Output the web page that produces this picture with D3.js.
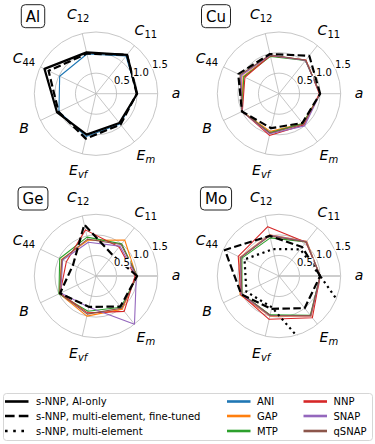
<!DOCTYPE html>
<html><head><meta charset="utf-8">
<script src="https://cdn.jsdelivr.net/npm/d3@7/dist/d3.min.js"></script>
<style>body{margin:0;background:#fff}svg{display:block}text{font-family:"DejaVu Sans",sans-serif}</style>
</head><body><svg id="c" width="375" height="444"></svg>
<script>
// ---- data ----
const axisKeys = ["a","C11","C12","C44","B","Evf","Em"];
const radialTicks = [0.5, 1.0, 1.5];
const radialTickLabels = ["0.5","1.0","1.5"];
const elements = ["Al","Cu","Ge","Mo"];
const methods = ["ANI","GAP","MTP","NNP","SNAP","qSNAP"];
const methodColors = ["#1f77b4","#ff7f0e","#2ca02c","#d62728","#9467bd","#8c564b"];
const sNNPNames = ["s-NNP, Al-only","s-NNP, multi-element, fine-tuned","s-NNP, multi-element"];

// values normalised to reference (order: a, C11, C12, C44, B, Evf, Em)
const Al_sNNP_AlOnly   = [1.00, 1.21, 1.03, 1.39, 1.05, 1.02, 0.91];
const Al_sNNP_fineTuned= [0.99, 1.21, 1.00, 1.28, 1.01, 1.12, 0.96];
const Al_ANI           = [1.00, 1.17, 0.99, 0.98, 1.00, 1.07, 0.94];

const Cu_sNNP_fineTuned= [1.00, 1.18, 0.99, 1.10, 1.00, 0.86, 0.91];
const Cu_GAP           = [1.00, 1.04, 0.95, 0.97, 1.00, 0.94, 0.93];
const Cu_MTP           = [1.00, 1.03, 0.93, 0.95, 1.00, 0.97, 0.93];
const Cu_NNP           = [0.98, 1.05, 0.95, 0.92, 0.99, 1.04, 0.97];
const Cu_SNAP          = [1.00, 1.03, 0.96, 1.02, 1.00, 1.00, 1.00];
const Cu_qSNAP         = [1.00, 1.04, 0.97, 1.05, 1.00, 0.98, 0.95];

const Ge_sNNP_fineTuned= [1.00, 0.65, 1.28, 0.62, 0.97, 0.77, 0.95];
const Ge_GAP           = [0.98, 1.12, 0.89, 0.93, 0.99, 1.00, 1.03];
const Ge_MTP           = [1.00, 1.00, 0.97, 0.98, 1.00, 0.88, 0.97];
const Ge_NNP           = [0.95, 0.90, 1.15, 0.80, 0.97, 0.92, 1.10];
const Ge_SNAP          = [0.98, 0.93, 0.84, 0.90, 0.95, 0.78, 1.50];
const Ge_qSNAP         = [1.00, 0.98, 0.92, 0.92, 0.98, 0.95, 1.00];

const Mo_sNNP_fineTuned= [1.00, 0.90, 1.00, 1.46, 1.02, 0.82, 1.00];
const Mo_sNNP_multi    = [1.00, 0.83, 0.67, 0.93, 0.88, 0.78, 15.0];
const Mo_GAP           = [1.00, 1.08, 1.03, 1.05, 1.05, 1.00, 1.25];
const Mo_MTP           = [1.00, 1.06, 0.95, 1.00, 1.00, 0.97, 1.22];
const Mo_NNP           = [1.00, 1.05, 1.23, 1.10, 1.03, 1.08, 1.30];
const Mo_SNAP          = [1.00, 1.07, 1.02, 1.04, 1.02, 0.99, 1.24];
const Mo_qSNAP         = [1.00, 1.06, 1.00, 1.03, 1.00, 0.98, 1.23];

// ---- assemble ----
const panels = {
  Al: {colored: [["ANI", Al_ANI]], black: [[0, Al_sNNP_AlOnly],[1, Al_sNNP_fineTuned]]},
  Cu: {colored: [["GAP",Cu_GAP],["MTP",Cu_MTP],["NNP",Cu_NNP],["SNAP",Cu_SNAP],["qSNAP",Cu_qSNAP]], black: [[1, Cu_sNNP_fineTuned]]},
  Ge: {colored: [["GAP",Ge_GAP],["MTP",Ge_MTP],["NNP",Ge_NNP],["SNAP",Ge_SNAP],["qSNAP",Ge_qSNAP]], black: [[1, Ge_sNNP_fineTuned]]},
  Mo: {colored: [["GAP",Mo_GAP],["MTP",Mo_MTP],["NNP",Mo_NNP],["SNAP",Mo_SNAP],["qSNAP",Mo_qSNAP]], black: [[2, Mo_sNNP_multi],[1, Mo_sNNP_fineTuned]]}
};
const centers = {Al:[96,93.7], Cu:[279,93.7], Ge:[96,276], Mo:[279,276]};
const thickA = {Al:false, Cu:false, Ge:true, Mo:true};
const R = 61.7;
const color = d3.scaleOrdinal().domain(methods).range(methodColors);
const rScale = d3.scaleLinear().domain([0, 1.5]).range([0, R]);
// d3 angle: 0 at 12 o'clock clockwise; data axes go counter-clockwise from east
const aScale = d3.scaleLinear().domain([0, axisKeys.length]).range([Math.PI/2, Math.PI/2 - 2*Math.PI]);
const blackStyles = [
  {w:2.2, dash:null},
  {w:2.2, dash:"7.5,3.4"},
  {w:2.2, dash:"2.2,3.6"}
];
const labelDefs = {
  a:[["a",true,false]], C11:[["C",true,false],["11",false,true]], C12:[["C",true,false],["12",false,true]],
  C44:[["C",true,false],["44",false,true]], B:[["B",true,false]], Evf:[["E",true,false],["vf",true,true]],
  Em:[["E",true,false],["m",true,true]]
};
const labelDy = {a:3.9, B:5.1, C11:3.6, C12:3.6, C44:3.6, Evf:3.6, Em:3.6};

const svg = d3.select("#c");
const line = d3.lineRadial().angle((d,i)=>aScale(i)).radius(d=>rScale(d)).curve(d3.curveLinearClosed);

elements.forEach((el, k) => {
  const [cx, cy] = centers[el];
  const g = svg.append("g").attr("transform", `translate(${cx},${cy})`);
  const clipId = "clip" + el;
  svg.append("clipPath").attr("id", clipId).append("circle").attr("cx",0).attr("cy",0).attr("r", R+0.6);
  // grid
  g.selectAll(".ring").data(radialTicks).join("circle")
    .attr("r", d=>rScale(d)).attr("fill","none").attr("stroke","#b8b8b8").attr("stroke-width",0.8);
  g.selectAll(".spoke").data(axisKeys).join("line")
    .attr("x1",0).attr("y1",0)
    .attr("x2",(d,i)=>R*Math.sin(aScale(i))).attr("y2",(d,i)=>-R*Math.cos(aScale(i)))
    .attr("stroke",(d,i)=> (i===0 && thickA[el]) ? "#cdcdcd" : "#b8b8b8")
    .attr("stroke-width",(d,i)=> (i===0 && thickA[el]) ? 2 : 0.8);
  const dg = g.append("g").attr("clip-path", `url(#${clipId})`);
  panels[el].colored.forEach(([m, vals]) => {
    dg.append("path").attr("d", line(vals)).attr("fill","none")
      .attr("stroke", color(m)).attr("stroke-width",1.1).attr("stroke-linejoin","round");
  });
  panels[el].black.forEach(([s, vals]) => {
    const st = blackStyles[s];
    const p = dg.append("path").attr("d", line(vals)).attr("fill","none")
      .attr("stroke","#000").attr("stroke-width",st.w).attr("stroke-linejoin","round");
    if (st.dash) p.attr("stroke-dasharray", st.dash);
  });
  // radial tick labels with white background
  const ang = Math.PI/2 - 22.5*Math.PI/180;
  radialTicks.forEach((t, i) => {
    const x = rScale(t)*Math.sin(ang) - 1, y = -rScale(t)*Math.cos(ang) - 2;
    const tg = g.append("g");
    const bg = tg.append("rect").attr("fill","#fff");
    const tx = tg.append("text").attr("x",x).attr("y",y).attr("font-size",10).attr("fill","#000").text(radialTickLabels[i]);
    const bb = tx.node().getBBox();
    bg.attr("x",bb.x-0.5).attr("y",bb.y+1).attr("width",bb.width+1).attr("height",bb.height-2);
  });
  // axis labels
  axisKeys.forEach((key, i) => {
    const a = aScale(i), rr = 80;
    const x = rr*Math.sin(a), y = -rr*Math.cos(a) + labelDy[key];
    const t = g.append("text").attr("x",x).attr("y",y).attr("text-anchor","middle").attr("font-size",14);
    labelDefs[key].forEach(([s, it, sub]) => {
      const ts = t.append("tspan").text(s).attr("font-style", it ? "italic" : "normal");
      if (sub) ts.attr("font-size",10).attr("dy",3);
    });
  });
  // element box
  const eg = g.append("g").attr("transform","translate(-63,-77.5)");
  const et = eg.append("text").attr("text-anchor","middle").attr("dy",5.4).attr("font-size",15).text(el);
  const eb = et.node().getBBox();
  eg.insert("rect","text").attr("x",eb.x-4.5).attr("y",-11.5).attr("width",eb.width+9).attr("height",23)
    .attr("rx",4).attr("fill","#fff").attr("stroke","#222").attr("stroke-width",1);
});

// ---- legend ----
const lg = svg.append("g");
lg.append("rect").attr("x",3.5).attr("y",393.5).attr("width",369).attr("height",47).attr("rx",3)
  .attr("fill","#fff").attr("stroke","#cccccc").attr("stroke-width",0.8);
const rowY = [401.5, 416, 431];
const legendBlack = [{w:2.6,dash:null},{w:2.6,dash:"9.6,4.2"},{w:2.6,dash:"2.6,5.6"}];
sNNPNames.forEach((name, i) => {
  const l = lg.append("line").attr("x1",5).attr("x2",28.5).attr("y1",rowY[i]).attr("y2",rowY[i])
    .attr("stroke","#000").attr("stroke-width",legendBlack[i].w);
  if (legendBlack[i].dash) l.attr("stroke-dasharray",legendBlack[i].dash);
  lg.append("text").attr("x",36).attr("y",rowY[i]+3.6).attr("font-size",10).text(name);
});
methods.forEach((m, i) => {
  const col = Math.floor(i/3), row = i%3;
  const x0 = col===0 ? 227 : 303.5;
  lg.append("line").attr("x1",x0).attr("x2",x0+23.5).attr("y1",rowY[row]).attr("y2",rowY[row])
    .attr("stroke",color(m)).attr("stroke-width",2.6);
  lg.append("text").attr("x",x0+30).attr("y",rowY[row]+3.6).attr("font-size",10).text(m);
});
</script></body></html>
